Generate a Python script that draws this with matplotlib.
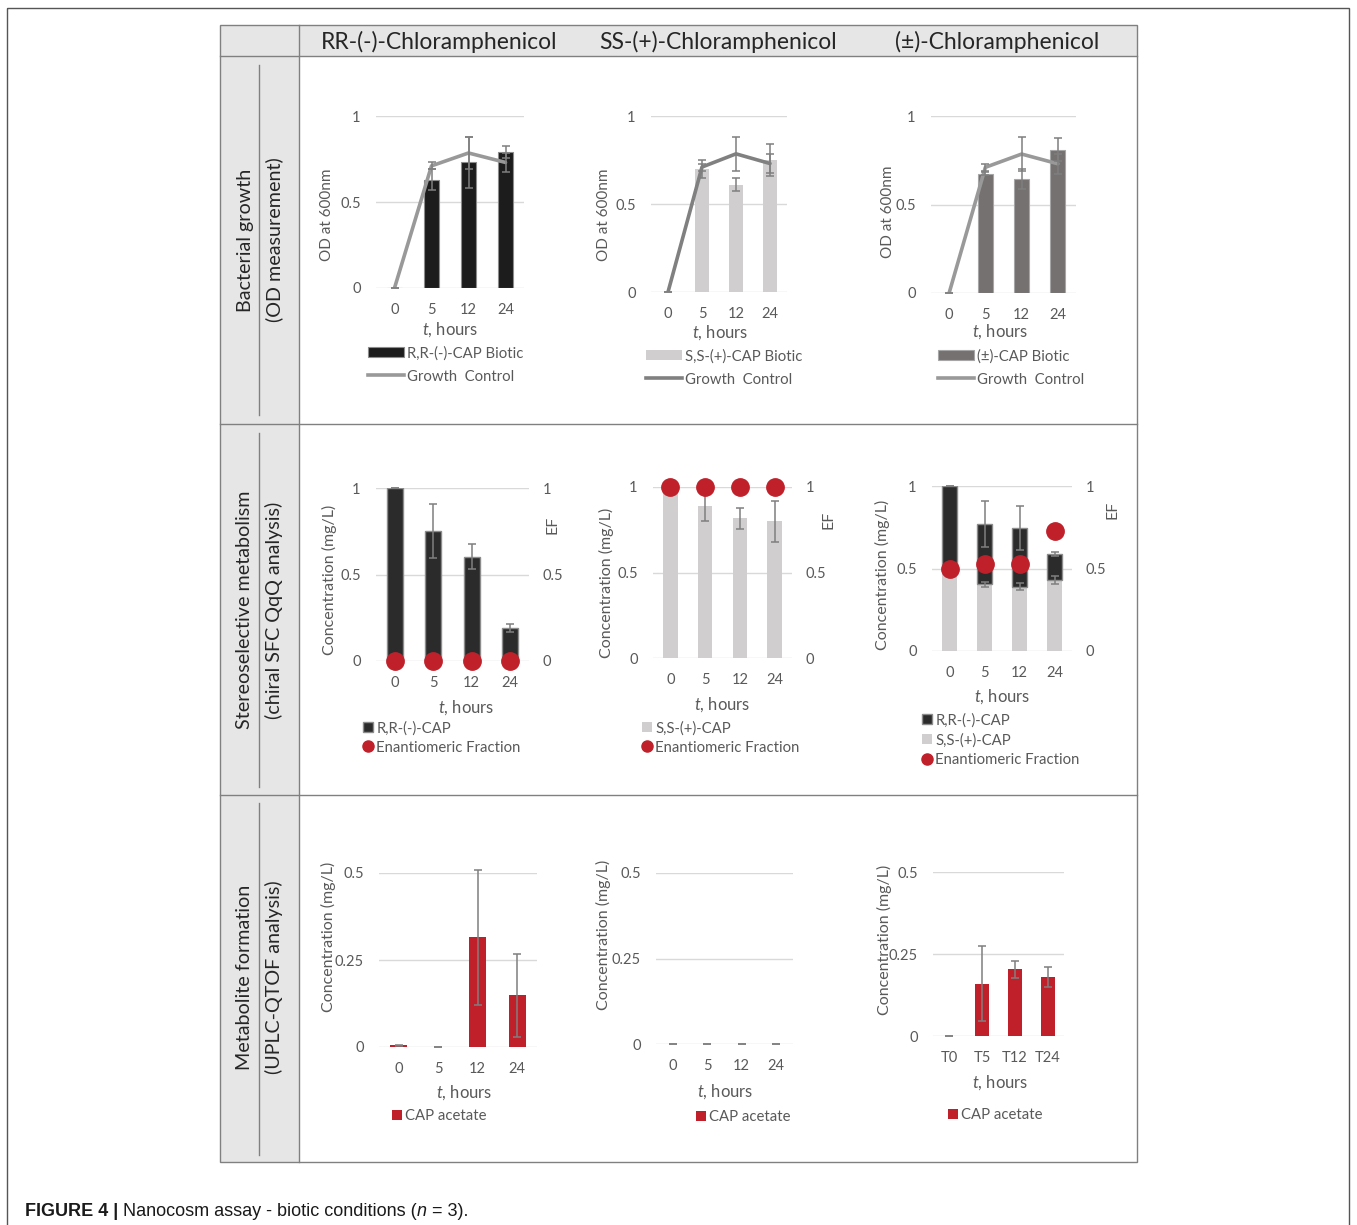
import matplotlib.pyplot as plt
from matplotlib.patches import Rectangle, Patch
from matplotlib.lines import Line2D

W, H = 1357, 1225

hours = ['0', '5', '12', '24']
hours_t = ['T0', 'T5', 'T12', 'T24']
col_titles = ['RR-(-)-Chloramphenicol', 'SS-(+)-Chloramphenicol', '(±)-Chloramphenicol']
row_titles = [('Bacterial growth', '(OD measurement)'),
              ('Stereoselective metabolism', '(chiral SFC QqQ analysis)'),
              ('Metabolite formation', '(UPLC-QTOF analysis)')]

# bacterial growth, OD at 600nm
growth_ctrl = [0.0, 0.71, 0.785, 0.73]
growth_ctrl_err = [0.0, 0.02, 0.095, 0.055]
rr_od = [0.0, 0.63, 0.73, 0.79]
rr_od_err = [0.0, 0.06, 0.146, 0.035]
ss_od = [0.0, 0.70, 0.61, 0.75]
ss_od_err = [0.0, 0.05, 0.035, 0.09]
rac_od = [0.0, 0.675, 0.645, 0.81]
rac_od_err = [0.0, 0.01, 0.057, 0.065]

# stereoselective metabolism, mg/L + enantiomeric fraction
rr_conc = [1.0, 0.752, 0.602, 0.192]
rr_conc_err = [0.0, 0.155, 0.072, 0.024]
rr_ef = [0.0, 0.0, 0.0, 0.0]
ss_conc = [1.0, 0.887, 0.816, 0.80]
ss_conc_err = [0.0, 0.085, 0.063, 0.12]
ss_ef = [1.0, 1.0, 1.0, 1.0]
rac_ss = [0.5, 0.404, 0.39, 0.43]
rac_ss_err = [0.0, 0.015, 0.02, 0.023]
rac_rr = [0.5, 0.366, 0.353, 0.156]
rac_rr_err = [0.0, 0.137, 0.133, 0.012]
rac_ef = [0.5, 0.53, 0.53, 0.727]

# metabolite formation, CAP acetate mg/L
rr_acet = [0.005, 0.0005, 0.315, 0.148]
rr_acet_err = [0.002, 0.0, 0.195, 0.12]
ss_acet = [0.0, 0.0, 0.0, 0.0]
ss_acet_err = [0.0, 0.0, 0.0, 0.0]
rac_acet = [0.001, 0.16, 0.203, 0.18]
rac_acet_err = [0.0, 0.113, 0.025, 0.031]

TXT = '#595959'
GRID = '#d9d9d9'
ERR = '#7f7f7f'
RED = '#c0202a'
BLACK = '#1c1c1c'
DARK = '#2b2b2b'
LIGHT = '#d0cece'
MID = '#767171'

plt.rcParams['font.family'] = ['Lato', 'DejaVu Sans']
plt.rcParams['mathtext.fontset'] = 'custom'
plt.rcParams['mathtext.it'] = 'Lato:italic'
plt.rcParams['mathtext.rm'] = 'Lato'

fig = plt.figure(figsize=(W / 100, H / 100), dpi=100)
bg = fig.add_axes([0, 0, 1, 1])
bg.set_xlim(0, W)
bg.set_ylim(H, 0)
bg.axis('off')

# frame and table
bg.add_patch(Rectangle((7, 8), 1342, 1240, fill=False, ec='#555555', lw=1))
bg.add_patch(Rectangle((220, 25), 917, 31, fc='#e7e6e6', ec='none'))
bg.add_patch(Rectangle((220, 56), 79, 1106, fc='#e7e6e6', ec='none'))
bg.add_patch(Rectangle((220, 25), 917, 1137, fill=False, ec='#808080', lw=1))
bg.plot([220, 1137], [56, 56], color='#808080', lw=1)
bg.plot([220, 1137], [424, 424], color='#808080', lw=1)
bg.plot([220, 1137], [795, 795], color='#808080', lw=1)
bg.plot([299, 299], [25, 1162], color='#808080', lw=1)
for y0, y1 in [(65, 415), (433, 787), (803, 1155)]:
    bg.plot([259, 259], [y0, y1], color='#808080', lw=1)

for x, s in zip([439, 718, 997], col_titles):
    bg.text(x, 42, s, fontsize=16.5, color='#262626', ha='center', va='center')
for yc, (a, b) in zip([240, 610, 977], row_titles):
    bg.text(245, yc, a, fontsize=14.2, color='#262626', rotation=90, ha='center', va='center')
    bg.text(274, yc, b, fontsize=14.2, color='#262626', rotation=90, ha='center', va='center')


def make_ax(box, ymax, yticks, yticklabels, xlabels):
    l, r, b, t = box
    ax = fig.add_axes([l / W, 1 - b / H, (r - l) / W, (b - t) / H])
    ax.set_facecolor('none')
    ax.set_xlim(-0.5, 3.5)
    ax.set_ylim(0, ymax)
    ax.set_xticks(range(4), xlabels)
    ax.set_yticks(yticks, yticklabels)
    ax.yaxis.grid(True, color=GRID, lw=1)
    ax.set_axisbelow(True)
    for s in ax.spines.values():
        s.set_visible(False)
    ax.tick_params(length=0, labelsize=10.5, labelcolor=TXT)
    ax.tick_params(axis='x', pad=11)
    ax.tick_params(axis='y', pad=11)
    return ax


def set_labels(ax, ylab, ypos, xpos, size=11.5):
    ax.set_ylabel(ylab, fontsize=size, color=TXT)
    ax.yaxis.set_label_coords(*ypos, transform=bg.transData)
    ax.yaxis.label.set_va('center')
    ax.set_xlabel('$t$, hours', fontsize=12, color=TXT)
    ax.xaxis.set_label_coords(*xpos, transform=bg.transData)
    ax.xaxis.label.set_va('center')


def add_legend(ax, handles, labels, x, y, hl, ls):
    ax.legend(handles, labels, loc='upper left', bbox_to_anchor=(x, y),
              bbox_transform=bg.transData, frameon=False, fontsize=10.7,
              labelcolor=TXT, handlelength=hl, handleheight=0.65,
              handletextpad=0.2, labelspacing=ls, borderpad=0, borderaxespad=0)


def errbars(ax, xs, ys, errs):
    cont = ax.errorbar(xs, ys, yerr=errs, fmt='none', ecolor=ERR, elinewidth=1.1,
                       capsize=3, capthick=1.1, zorder=4)
    for art in cont.get_children():
        art.set_clip_on(False)


def twin_ef(ax, ef, ef_label_pos):
    ax2 = ax.twinx()
    ax2.set_ylim(0, 1)
    ax2.set_yticks([0, 0.5, 1], ['0', '0.5', '1'])
    for s in ax2.spines.values():
        s.set_visible(False)
    ax2.tick_params(length=0, labelsize=10.5, labelcolor=TXT, pad=10)
    ax2.plot(range(4), ef, 'o', ms=12.5, color=RED, clip_on=False, zorder=5)
    ax2.set_ylabel('EF', fontsize=11.5, color=TXT)
    ax2.yaxis.set_label_coords(*ef_label_pos, transform=bg.transData)
    ax2.yaxis.label.set_va('center')
    return ax2


x = range(4)
bw = 0.42
od_ticks = ([0, 0.5, 1], ['0', '0.5', '1'])

# row 1: growth
growth_panels = [
    ((376, 524, 288, 116), rr_od, rr_od_err, BLACK, '#8c8c8c', '#999999',
     'R,R-(-)-CAP Biotic', (327, 215), (450, 330), (368, 346)),
    ((651, 787, 292, 116), ss_od, ss_od_err, LIGHT, 'none', '#808080',
     'S,S-(+)-CAP Biotic', (604, 215), (720, 333), (646, 349)),
    ((931, 1076, 293, 116), rac_od, rac_od_err, MID, '#a6a6a6', '#999999',
     '(±)-CAP Biotic', (888, 212), (1000, 332), (938, 349)),
]
for box, vals, errs, fc, ec, lc, lab, ypos, xpos, lpos in growth_panels:
    ax = make_ax(box, 1, *od_ticks, hours)
    ax.bar(x, vals, bw, color=fc, edgecolor=ec, lw=0.8, zorder=2)
    errbars(ax, [1, 2, 3], vals[1:], errs[1:])
    ax.plot(x, growth_ctrl, color=lc, lw=2.6, zorder=3, solid_capstyle='round')
    errbars(ax, x, growth_ctrl, growth_ctrl_err)
    set_labels(ax, 'OD at 600nm', ypos, xpos, size=11)
    add_legend(ax, [Patch(fc=fc, ec=ec, lw=0.8), Line2D([], [], color=lc, lw=2.6)],
               [lab, 'Growth  Control'], *lpos, hl=2.4, ls=0.62)

# row 2: stereoselective metabolism
ax = make_ax((376, 529, 661, 488), 1, *od_ticks, hours)
ax.bar(x, rr_conc, bw, color=DARK, edgecolor='#8c8c8c', lw=1, zorder=2)
errbars(ax, x, rr_conc, rr_conc_err)
set_labels(ax, 'Concentration (mg/L)', (329, 580), (466, 708))
ax2 = twin_ef(ax, rr_ef, (553, 525))
add_legend(ax2, [Patch(fc=DARK, ec='#8c8c8c'),
                 Line2D([], [], marker='o', ls='none', ms=8, color=RED)],
           ['R,R-(-)-CAP', 'Enantiomeric Fraction'], 363, 721, hl=0.7, ls=0.35)

ax = make_ax((653, 792, 658, 487), 1, *od_ticks, hours)
ax.bar(x, ss_conc, bw, color=LIGHT, zorder=2)
errbars(ax, x, ss_conc, ss_conc_err)
set_labels(ax, 'Concentration (mg/L)', (606, 583), (722, 705))
ax2 = twin_ef(ax, ss_ef, (828, 520))
add_legend(ax2, [Patch(fc=LIGHT, ec='none'),
                 Line2D([], [], marker='o', ls='none', ms=8, color=RED)],
           ['S,S-(+)-CAP', 'Enantiomeric Fraction'], 642, 721, hl=0.7, ls=0.35)

ax = make_ax((932, 1072, 651, 486), 1, *od_ticks, hours)
ax.bar(x, rac_ss, bw, color=LIGHT, zorder=2)
ax.bar(x, rac_rr, bw, bottom=rac_ss, color=DARK, edgecolor='#8c8c8c', lw=1, zorder=2)
errbars(ax, x, rac_ss, rac_ss_err)
rac_total = [a + b for a, b in zip(rac_ss, rac_rr)]
errbars(ax, x, rac_total, rac_rr_err)
set_labels(ax, 'Concentration (mg/L)', (882, 575), (1002, 697))
ax2 = twin_ef(ax, rac_ef, (1112, 510))
add_legend(ax2, [Patch(fc=DARK, ec='#8c8c8c'), Patch(fc=LIGHT, ec='none'),
                 Line2D([], [], marker='o', ls='none', ms=8, color=RED)],
           ['R,R-(-)-CAP', 'S,S-(+)-CAP', 'Enantiomeric Fraction'],
           922, 713, hl=0.7, ls=0.38)

# row 3: metabolite formation
acet_ticks = ([0, 0.25, 0.5], ['0', '0.25', '0.5'])
acet_panels = [
    ((379, 537, 1047, 873), rr_acet, rr_acet_err, hours, (328, 937), (464, 1093), (392, 1109)),
    ((656, 793, 1044, 873), ss_acet, ss_acet_err, hours, (603, 935), (725, 1092), (696, 1110)),
    ((933, 1064, 1036, 872), rac_acet, rac_acet_err, hours_t, (884, 940), (1000, 1083), (948, 1108)),
]
for box, vals, errs, xl, ypos, xpos, lpos in acet_panels:
    ax = make_ax(box, 0.5, *acet_ticks, xl)
    ax.bar(x, vals, bw, color=RED, zorder=2)
    errbars(ax, x, vals, errs)
    set_labels(ax, 'Concentration (mg/L)', ypos, xpos)
    add_legend(ax, [Patch(fc=RED, ec='none')], ['CAP acetate'], *lpos, hl=0.7, ls=0.3)

# caption
r = fig.canvas.get_renderer()
cx = 25
pieces = [('FIGURE 4 |', 'bold', 'normal', 5),
          ('Nanocosm assay - biotic conditions (', 'normal', 'normal', 0),
          ('n', 'normal', 'italic', 0),
          (' = 3).', 'normal', 'normal', 0)]
for s, fw, st, gap in pieces:
    t = bg.text(cx, 1216, s, fontsize=13, fontweight=fw, style=st,
                family=['Liberation Sans', 'DejaVu Sans'], color='#1a1a1a', va='baseline')
    cx += t.get_window_extent(r).width + gap

fig.savefig('out.png', dpi=100)
